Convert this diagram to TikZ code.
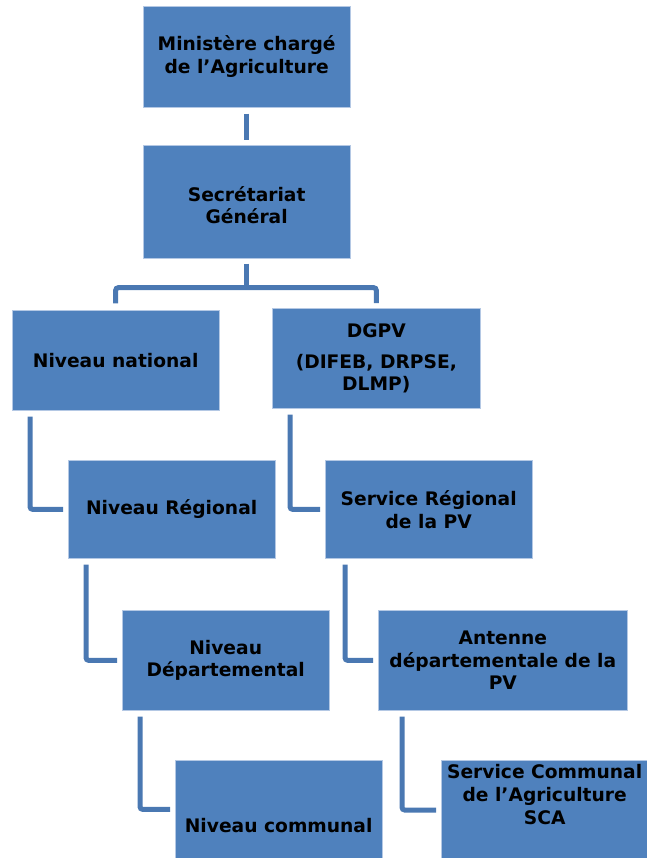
\documentclass[tikz,border=0pt]{standalone}
\usepackage{fontspec}
\setmainfont{DejaVu Sans}
\usetikzlibrary{positioning}
\definecolor{boxblue}{HTML}{4F81BD}
\definecolor{linkblue}{HTML}{4A78B2}
\definecolor{edgeblue}{HTML}{B4C8E4}
\newcommand{\textlower}[2]{\raisebox{0pt}[\dimexpr\height+#1\relax][\depth]{#2}}
\newcommand{\textraise}[2]{\raisebox{0pt}[\height][\dimexpr\depth+#1\relax]{#2}}

\begin{document}
\begin{tikzpicture}[
  x=0.75pt, y=-0.75pt,
  box/.style={draw=edgeblue,line width=0.5pt,fill=boxblue,anchor=north west,
    minimum width=155pt,minimum height=75pt,inner sep=2pt,align=center,
    font=\bfseries\fontsize{14pt}{17pt}\selectfont},
  link/.style={draw=linkblue,line width=3.75pt,rounded corners=2pt}
]
\useasboundingbox (0,0) rectangle (647,858);

% Nodes
\node[box, minimum height=75.75pt] (min) at (143,6) {Ministère chargé\\de l’Agriculture};
\node[box, minimum height=84.75pt] (sec) at (143,145)
  {\textlower{9pt}{\begin{tabular}{@{}c@{}}Secrétariat\\Général\end{tabular}}};
\node[box] (nat) at (12,310) {Niveau national};
\node[box, minimum width=156pt] (dgpv) at (272,308) {DGPV\\[6pt](DIFEB, DRPSE,\\DLMP)};
\node[box, minimum height=73.5pt] (reg) at (68,460) {Niveau Régional};
\node[box, minimum height=73.5pt] (srpv) at (325,460) {Service Régional\\de la PV};
\node[box] (dep) at (122,610) {Niveau\\Départemental};
\node[box, minimum width=186.75pt] (ant) at (378,610) {Antenne\\départementale de la\\PV};
\node[box, minimum height=73.5pt] (com) at (175,760) {\textlower{24pt}{Niveau communal}};
\node[box, minimum height=73.5pt] (sca) at (441,760)
  {\textraise{19.5pt}{\begin{tabular}{@{}c@{}}Service Communal\\de l’Agriculture\\SCA\end{tabular}}};
\coordinate (fork) at ([yshift=-21.75pt]sec.south);

% Connections
\draw[link] ([yshift=-4.5pt]min.south) -- ([yshift=3.75pt]sec.north);
\draw[link] ([yshift=-3.75pt]sec.south) -- (fork);
\draw[link] ([yshift=5pt]nat.north) |- (fork) -| ([yshift=3.75pt]dgpv.north);
\draw[link] ([xshift=13.5pt,yshift=-4.5pt]nat.south west) |- ([xshift=-3.75pt]reg.west);
\draw[link] ([xshift=13.5pt,yshift=-4.5pt]dgpv.south west) |- ([xshift=-3.75pt]srpv.west);
\draw[link] ([xshift=13.5pt,yshift=-4.5pt]reg.south west) |- ([xshift=-3.75pt]dep.west);
\draw[link] ([xshift=15pt,yshift=-4.5pt]srpv.south west) |- ([xshift=-3.75pt]ant.west);
\draw[link] ([xshift=13.5pt,yshift=-4.5pt]dep.south west) |- ([xshift=-3.75pt]com.west);
\draw[link] ([xshift=18pt,yshift=-4.5pt]ant.south west) |- ([xshift=-3.75pt]sca.west);

\end{tikzpicture}
\end{document}
